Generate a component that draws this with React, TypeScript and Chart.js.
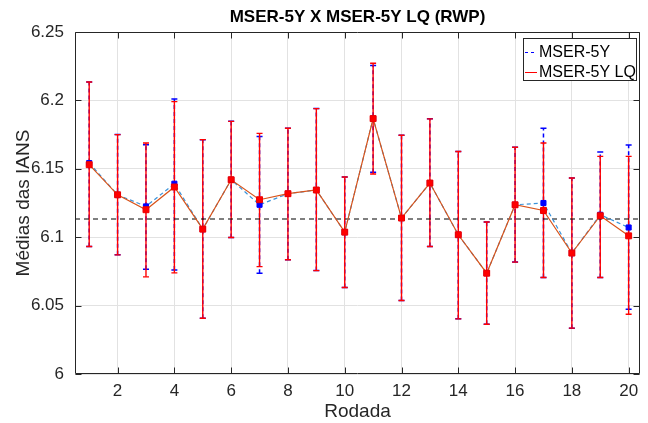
import React, { useEffect, useRef } from 'react';
import { Chart, registerables } from 'chart.js';

Chart.register(...registerables);

const rounds = [1, 2, 3, 4, 5, 6, 7, 8, 9, 10, 11, 12, 13, 14, 15, 16, 17, 18, 19, 20];

const mserMean = [6.1542, 6.131, 6.1225, 6.1391, 6.1059, 6.142, 6.1237, 6.1318, 6.1345, 6.1037, 6.1867, 6.114, 6.1396, 6.1018, 6.0737, 6.1237, 6.125, 6.0884, 6.1164, 6.1071];
const mserHigh = [6.2135, 6.175, 6.1676, 6.2011, 6.1713, 6.1847, 6.1737, 6.1796, 6.194, 6.144, 6.2255, 6.1745, 6.1865, 6.1627, 6.1111, 6.1657, 6.1796, 6.1433, 6.1623, 6.1674];
const mserLow = [6.0932, 6.0871, 6.0766, 6.0761, 6.0408, 6.0998, 6.0737, 6.0835, 6.0756, 6.0632, 6.1474, 6.0537, 6.0932, 6.0403, 6.0364, 6.0818, 6.0705, 6.0335, 6.0705, 6.0474];

const lqMean = [6.153, 6.131, 6.1201, 6.1367, 6.1059, 6.142, 6.1274, 6.1318, 6.1345, 6.1037, 6.1867, 6.114, 6.1396, 6.1018, 6.0737, 6.1237, 6.1195, 6.0884, 6.1157, 6.101];
const lqHigh = [6.2135, 6.175, 6.1689, 6.1991, 6.1713, 6.1847, 6.1759, 6.1796, 6.194, 6.144, 6.2272, 6.1745, 6.1865, 6.1627, 6.1111, 6.1657, 6.1689, 6.1433, 6.1591, 6.1591];
const lqLow = [6.0932, 6.0871, 6.071, 6.0739, 6.0408, 6.0998, 6.0785, 6.0835, 6.0756, 6.0632, 6.1462, 6.0537, 6.0932, 6.0403, 6.0364, 6.0818, 6.0705, 6.0335, 6.0705, 6.0437];

const refValue = 6.1133;

const xTicks = [2, 4, 6, 8, 10, 12, 14, 16, 18, 20];
const yTicks = [6, 6.05, 6.1, 6.15, 6.2, 6.25];
const yTickLabels = ['6', '6.05', '6.1', '6.15', '6.2', '6.25'];

const titleText = 'MSER-5Y X MSER-5Y LQ (RWP)';
const xLabel = 'Rodada';
const yLabel = 'Médias das IANS';
const seriesLabels = ['MSER-5Y', 'MSER-5Y LQ'];

const FONT = '"Liberation Sans", Arial, Helvetica, sans-serif';
const AXIS = '#262626';

const errorSeries = [
  { low: mserLow, high: mserHigh, color: '#0000ff', dash: [4, 3], width: 1.5 },
  { low: lqLow, high: lqHigh, color: '#ff0000', dash: [] as number[], width: 1.4 },
];

const legendItems = [
  { label: seriesLabels[0], color: '#0000ff', dash: [3, 3] },
  { label: seriesLabels[1], color: '#ff0000', dash: [] as number[] },
];

const errorBarPlugin = {
  id: 'errorBars',
  beforeDatasetsDraw(chart: any) {
    const { ctx, chartArea, scales } = chart;
    const xs = scales.x;
    const ys = scales.y;
    const cap = 3;
    ctx.save();
    ctx.beginPath();
    ctx.rect(chartArea.left, chartArea.top, chartArea.right - chartArea.left, chartArea.bottom - chartArea.top);
    ctx.clip();
    errorSeries.forEach((s) => {
      ctx.strokeStyle = s.color;
      ctx.lineWidth = s.width;
      rounds.forEach((r, i) => {
        const px = xs.getPixelForValue(r);
        const pl = ys.getPixelForValue(s.low[i]);
        const ph = ys.getPixelForValue(s.high[i]);
        ctx.setLineDash(s.dash);
        ctx.beginPath();
        ctx.moveTo(px, pl);
        ctx.lineTo(px, ph);
        ctx.stroke();
        ctx.setLineDash([]);
        ctx.beginPath();
        ctx.moveTo(px - cap, pl);
        ctx.lineTo(px + cap, pl);
        ctx.moveTo(px - cap, ph);
        ctx.lineTo(px + cap, ph);
        ctx.stroke();
      });
    });
    ctx.restore();
  },
};

const framePlugin = {
  id: 'frame',
  afterDraw(chart: any) {
    const { ctx, chartArea, scales } = chart;
    const { left, right, top, bottom } = chartArea;
    const xs = scales.x;
    const ys = scales.y;
    const tl = 6;
    ctx.save();
    ctx.strokeStyle = AXIS;
    ctx.lineWidth = 1;
    ctx.setLineDash([]);
    const L = Math.round(left) + 0.5;
    const R = Math.round(right) - 0.5;
    const T = Math.round(top) + 0.5;
    const B = Math.round(bottom) - 0.5;
    ctx.beginPath();
    ctx.rect(L, T, R - L, B - T);
    ctx.stroke();
    ctx.beginPath();
    xTicks.forEach((v) => {
      const px = Math.round(xs.getPixelForValue(v)) + 0.5;
      ctx.moveTo(px, B);
      ctx.lineTo(px, B - tl);
      ctx.moveTo(px, T);
      ctx.lineTo(px, T + tl);
    });
    yTicks.forEach((v) => {
      const py = Math.round(ys.getPixelForValue(v)) + 0.5;
      ctx.moveTo(L, py);
      ctx.lineTo(L + tl, py);
      ctx.moveTo(R, py);
      ctx.lineTo(R - tl, py);
    });
    ctx.stroke();

    // title
    ctx.fillStyle = '#000000';
    ctx.font = `bold 17px ${FONT}`;
    ctx.textAlign = 'center';
    ctx.textBaseline = 'middle';
    ctx.fillText(titleText, (left + right) / 2, 17);

    // axis labels
    ctx.fillStyle = AXIS;
    ctx.font = `19px ${FONT}`;
    ctx.fillText(xLabel, (left + right) / 2, 412);
    ctx.save();
    ctx.translate(24, (top + bottom) / 2);
    ctx.rotate(-Math.PI / 2);
    ctx.fillText(yLabel, 0, 0);
    ctx.restore();

    // legend
    const bx = 523, by = 38.5, bw = 113, bh = 42;
    ctx.fillStyle = '#ffffff';
    ctx.fillRect(bx, by, bw, bh);
    ctx.strokeStyle = AXIS;
    ctx.lineWidth = 1;
    ctx.strokeRect(bx + 0.5, by, bw, bh);
    ctx.font = `16px ${FONT}`;
    ctx.textAlign = 'left';
    ctx.textBaseline = 'middle';
    legendItems.forEach((it, i) => {
      const y = by + 13 + i * 20;
      ctx.strokeStyle = it.color;
      ctx.lineWidth = 1;
      ctx.setLineDash(it.dash);
      ctx.beginPath();
      ctx.moveTo(bx + 2, Math.round(y) + 0.5);
      ctx.lineTo(bx + 14, Math.round(y) + 0.5);
      ctx.stroke();
      ctx.setLineDash([]);
      ctx.fillStyle = '#000000';
      ctx.fillText(it.label, bx + 16, y + 1);
    });
    ctx.restore();
  },
};

export default function App() {
  const canvasRef = useRef<HTMLCanvasElement | null>(null);

  useEffect(() => {
    if (!canvasRef.current) return;
    const chart = new Chart(canvasRef.current, {
      type: 'line',
      data: {
        datasets: [
          {
            label: seriesLabels[0],
            data: rounds.map((r, i) => ({ x: r, y: mserMean[i] })),
            borderColor: '#3a93da',
            borderDash: [4, 3],
            borderWidth: 1.2,
            pointStyle: 'rect',
            pointRadius: 3.6,
            pointBackgroundColor: '#0000ff',
            pointBorderColor: '#0000ff',
            pointBorderWidth: 1,
            tension: 0,
            order: 2,
          },
          {
            label: seriesLabels[1],
            data: rounds.map((r, i) => ({ x: r, y: lqMean[i] })),
            borderColor: '#d95319',
            borderWidth: 1.2,
            pointStyle: 'rect',
            pointRadius: 4.2,
            pointBackgroundColor: '#ff0000',
            pointBorderColor: '#ee0000',
            pointBorderWidth: 1,
            tension: 0,
            order: 1,
          },
          {
            label: 'ref',
            data: [
              { x: 0.5, y: refValue },
              { x: 20.4, y: refValue },
            ],
            borderColor: '#000000',
            borderDash: [5, 4],
            borderWidth: 1.2,
            pointRadius: 0,
            order: 3,
          },
        ],
      },
      options: {
        responsive: false,
        animation: false,
        events: [],
        layout: { padding: { top: 32, right: 8, bottom: 0, left: 0 } },
        plugins: {
          legend: { display: false },
          title: { display: false },
          tooltip: { enabled: false },
        },
        scales: {
          x: {
            type: 'linear',
            min: 0.5,
            max: 20.4,
            afterBuildTicks: (scale: any) => {
              scale.ticks = xTicks.map((v) => ({ value: v }));
            },
            afterFit: (scale: any) => {
              scale.height = 49;
            },
            grid: { color: '#e2e2e2', lineWidth: 1, drawTicks: false },
            border: { display: false },
            ticks: {
              padding: 7,
              color: AXIS,
              font: { family: FONT, size: 17 },
              maxRotation: 0,
              autoSkip: false,
              callback: (v: any) => String(v),
            },
          },
          y: {
            type: 'linear',
            min: 6,
            max: 6.25,
            afterBuildTicks: (scale: any) => {
              scale.ticks = yTicks.map((v) => ({ value: v }));
            },
            afterFit: (scale: any) => {
              scale.width = 75;
            },
            grid: { color: '#e2e2e2', lineWidth: 1, drawTicks: false },
            border: { display: false },
            ticks: {
              padding: 11,
              color: AXIS,
              font: { family: FONT, size: 17 },
              autoSkip: false,
              callback: (v: any) => {
                const idx = yTicks.findIndex((t) => Math.abs(t - Number(v)) < 1e-9);
                return idx >= 0 ? yTickLabels[idx] : '';
              },
            },
          },
        },
      },
      plugins: [errorBarPlugin, framePlugin],
    } as any);
    return () => chart.destroy();
  }, []);

  return (
    <div style={{ position: 'fixed', left: 0, top: 0, width: 648, height: 423, background: '#ffffff' }}>
      <canvas ref={canvasRef} width={648} height={423} style={{ display: 'block' }} />
    </div>
  );
}
